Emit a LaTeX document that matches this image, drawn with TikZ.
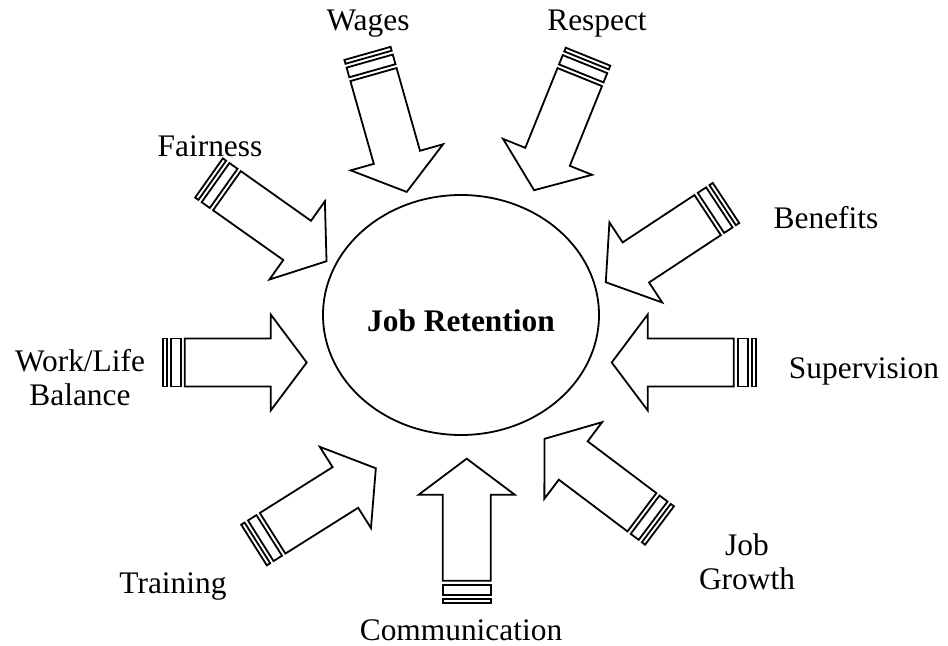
\documentclass[tikz,border=0pt]{standalone}
\usepackage{fontspec}
\setmainfont{Liberation Serif}
\usetikzlibrary{shapes.geometric}

\tikzset{
    % block arrow with two stripes at its tail, drawn from the tail along x
    stripearrow/.pic={
        \draw[arrowline] (0,-24) rectangle (4,24);
        \draw[arrowline] (8,-24) rectangle (18,24);
        \draw[arrowline] (22,-24) -- (108,-24) -- (108,-48) -- (144,0)
            -- (108,48) -- (108,24) -- (22,24) -- cycle;
    },
    arrowline/.style={line width=0.9pt, line join=miter, fill=white},
    factor/.style={font=\fontsize{15.7pt}{17pt}\selectfont, inner sep=0pt, align=center},
    hub/.style={ellipse, draw, line width=0.9pt, minimum width=138pt, minimum height=120pt}
}

\begin{document}
\begin{tikzpicture}[x=0.5pt, y=-0.5pt]
    \useasboundingbox (0,0) rectangle (948,646);

    % centre
    \node[hub] (retention) at (461,315) {};
    \node[factor, font=\fontsize{15.7pt}{17pt}\selectfont\bfseries, anchor=base] (title) at (461,332) {Job Retention};

    % arrows, placed by tail and direction
    \pic[rotate=-74.2]  at (367.5,53.4) {stripearrow};   % wages
    \pic[rotate=-112]   at (588,56.7)   {stripearrow};   % respect
    \pic[rotate=-35.3]  at (209,178)    {stripearrow};   % fairness
    \pic[rotate=213.4]  at (726,203)    {stripearrow};   % benefits
    \pic[rotate=0]      at (162.7,362.5) {stripearrow};  % work/life
    \pic[rotate=180]    at (755.7,362.5) {stripearrow};  % supervision
    \pic[rotate=32.2]   at (254,545)    {stripearrow};   % training
    \pic[rotate=90]     at (466.7,602.7) {stripearrow};  % communication
    \pic[rotate=143]    at (659.5,525.5) {stripearrow};  % job growth

    % labels
    \node[factor, anchor=base] (wages) at (368,31) {Wages};
    \node[factor, anchor=base] (respect) at (597,31) {Respect};
    \node[factor, anchor=base] (fairness) at (210,157) {Fairness};
    \node[factor, anchor=base] (benefits) at (826,229) {Benefits};
    \node[factor] (worklife) at (80,378) {Work/Life\\Balance};
    \node[factor, anchor=base] (supervision) at (864,379) {Supervision};
    \node[factor, anchor=base] (training) at (173,593) {Training};
    \node[factor, anchor=base] (communication) at (461,640) {Communication};
    \node[factor] (jobgrowth) at (747,562) {Job\\Growth};
\end{tikzpicture}
\end{document}
